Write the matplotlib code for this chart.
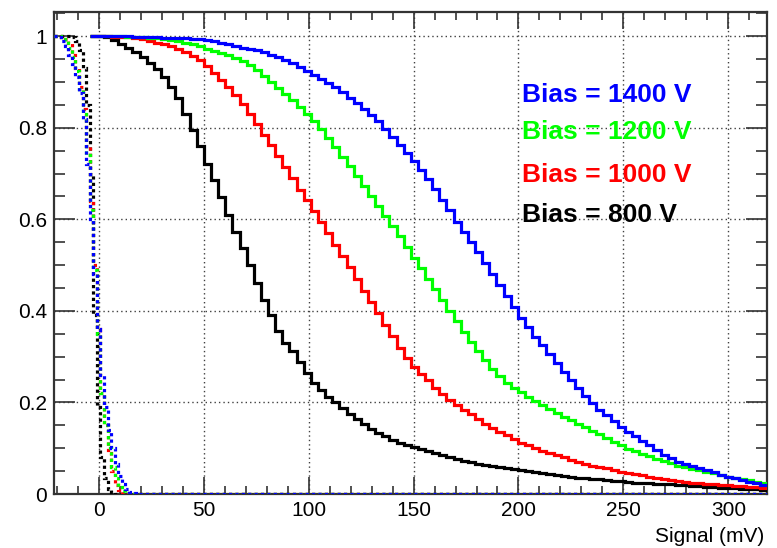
import numpy as np
import matplotlib
matplotlib.use("Agg")
import matplotlib.pyplot as plt
from matplotlib.ticker import MultipleLocator, FuncFormatter

# ---------------- data ----------------
# solid histograms: 3.4 mV bins starting at -4.3 mV
solid_start = -4.3
solid_width = 3.4
black_800 = [1.0, 1.0, 0.998, 0.991, 0.983, 0.975, 0.965, 0.955, 0.942, 0.929,
             0.91, 0.89, 0.865, 0.83, 0.795, 0.76, 0.722, 0.686, 0.648, 0.61,
             0.573, 0.538, 0.50, 0.46, 0.424, 0.39, 0.356, 0.33, 0.312, 0.289,
             0.265, 0.243, 0.228, 0.213, 0.2, 0.188, 0.175, 0.163, 0.152, 0.142,
             0.134, 0.126, 0.119, 0.112, 0.107, 0.102, 0.098, 0.094, 0.09, 0.085,
             0.08, 0.076, 0.072, 0.069, 0.066, 0.064, 0.062, 0.059, 0.057, 0.054,
             0.052, 0.05, 0.047, 0.045, 0.043, 0.041, 0.039, 0.037, 0.036, 0.035,
             0.033, 0.032, 0.031, 0.029, 0.028, 0.026, 0.025, 0.024, 0.023, 0.022,
             0.021, 0.021, 0.02, 0.019, 0.018, 0.017, 0.016, 0.015, 0.014, 0.013,
             0.013, 0.012, 0.011, 0.01, 0.009]
red_1000 = [1.0, 1.0, 1.0, 0.999, 0.999, 0.998, 0.997, 0.994, 0.99, 0.986,
            0.982, 0.978, 0.972, 0.965, 0.957, 0.948, 0.934, 0.92, 0.905, 0.89,
            0.872, 0.852, 0.83, 0.808, 0.785, 0.762, 0.738, 0.714, 0.69, 0.665,
            0.642, 0.618, 0.595, 0.57, 0.545, 0.52, 0.495, 0.47, 0.444, 0.42,
            0.395, 0.37, 0.345, 0.32, 0.298, 0.278, 0.262, 0.248, 0.232, 0.218,
            0.205, 0.194, 0.184, 0.174, 0.164, 0.153, 0.144, 0.136, 0.128, 0.12,
            0.112, 0.106, 0.1, 0.094, 0.089, 0.085, 0.08, 0.075, 0.07, 0.066,
            0.062, 0.059, 0.056, 0.052, 0.049, 0.046, 0.044, 0.041, 0.038, 0.035,
            0.033, 0.03, 0.028, 0.026, 0.025, 0.023, 0.022, 0.021, 0.02, 0.019,
            0.018, 0.017, 0.016, 0.015, 0.013]
green_1200 = [1.0, 1.0, 1.0, 1.0, 1.0, 0.999, 0.999, 0.998, 0.997, 0.996,
              0.994, 0.992, 0.989, 0.986, 0.982, 0.978, 0.973, 0.968, 0.963, 0.958,
              0.952, 0.945, 0.937, 0.926, 0.914, 0.9, 0.887, 0.874, 0.86, 0.846,
              0.83, 0.814, 0.797, 0.778, 0.758, 0.737, 0.716, 0.695, 0.673, 0.652,
              0.63, 0.608, 0.586, 0.564, 0.54, 0.515, 0.493, 0.47, 0.447, 0.423,
              0.4, 0.377, 0.353, 0.332, 0.312, 0.292, 0.274, 0.258, 0.243, 0.232,
              0.222, 0.212, 0.203, 0.195, 0.186, 0.177, 0.169, 0.161, 0.154, 0.146,
              0.138, 0.13, 0.122, 0.114, 0.106, 0.099, 0.094, 0.088, 0.082, 0.077,
              0.072, 0.067, 0.062, 0.058, 0.055, 0.052, 0.049, 0.046, 0.042, 0.038,
              0.035, 0.033, 0.03, 0.027, 0.024]
blue_1400 = [1.0, 1.0, 1.0, 1.0, 1.0, 1.0, 0.999, 0.999, 0.998, 0.998,
             0.997, 0.997, 0.996, 0.996, 0.995, 0.994, 0.992, 0.989, 0.986, 0.983,
             0.979, 0.975, 0.972, 0.969, 0.965, 0.96, 0.954, 0.948, 0.941, 0.933,
             0.925, 0.916, 0.907, 0.898, 0.889, 0.878, 0.866, 0.854, 0.842, 0.829,
             0.814, 0.798, 0.78, 0.762, 0.745, 0.728, 0.708, 0.688, 0.666, 0.643,
             0.62, 0.595, 0.572, 0.55, 0.528, 0.505, 0.481, 0.456, 0.432, 0.408,
             0.385, 0.364, 0.344, 0.325, 0.306, 0.286, 0.266, 0.248, 0.232, 0.214,
             0.199, 0.184, 0.172, 0.16, 0.147, 0.136, 0.126, 0.116, 0.106, 0.096,
             0.086, 0.078, 0.071, 0.066, 0.061, 0.057, 0.052, 0.047, 0.042, 0.037,
             0.034, 0.031, 0.027, 0.024, 0.02]

# dotted (pedestal / noise) histograms: 1.7 mV bins starting at -21.3 mV
noise_start = -21.3
noise_width = 1.7
noise_black = [1.0, 1.0, 1.0, 1.0, 1.0, 0.998, 0.99, 0.97, 0.93, 0.85,
               0.70, 0.39, 0.19, 0.08, 0.035, 0.012, 0.004, 0.001]
noise_red = [1.0, 1.0, 0.998, 0.995, 0.985, 0.96, 0.93, 0.89, 0.84, 0.76,
             0.64, 0.50, 0.36, 0.22, 0.15, 0.09, 0.05, 0.02, 0.008, 0.003, 0.001]
noise_green = [1.0, 1.0, 0.995, 0.99, 0.975, 0.955, 0.925, 0.885, 0.83, 0.74,
               0.62, 0.49, 0.35, 0.22, 0.15, 0.10, 0.06, 0.035, 0.015, 0.006, 0.002]
noise_blue = [1.0, 0.998, 0.99, 0.978, 0.96, 0.94, 0.912, 0.875, 0.82, 0.72,
              0.60, 0.48, 0.36, 0.26, 0.19, 0.14, 0.10, 0.065, 0.04, 0.022,
              0.01, 0.005, 0.002, 0.001]

labels = ["Bias = 1400 V", "Bias = 1200 V", "Bias = 1000 V", "Bias = 800 V"]
colors = ["#0000ff", "#00ff00", "#ff0000", "#000000"]

xlim = (-21.3, 318.4)
ylim = (0.0, 1.053)
x_title = "Signal (mV)"

# ---------------- figure ----------------
plt.rcParams['font.family'] = ['Liberation Sans', 'DejaVu Sans']
fig = plt.figure(figsize=(7.77, 5.48), dpi=100)
ax = fig.add_axes([54 / 777, 1 - 494 / 548, (767 - 54) / 777, (494 - 12) / 548])

n_noise_bins = int(round((xlim[1] - noise_start) / noise_width))
noise_edges = noise_start + noise_width * np.arange(n_noise_bins + 1)


def pad(vals):
    out = np.zeros(n_noise_bins)
    out[:len(vals)] = vals
    return out


lw = 2.3
for vals, col in [(noise_black, colors[3]), (noise_red, colors[2]),
                  (noise_green, colors[1]), (noise_blue, colors[0])]:
    ax.stairs(pad(vals), noise_edges, color=col, lw=lw, baseline=None,
              linestyle=(0, (1.0, 1.0)), zorder=3)

for vals, col in [(black_800, colors[3]), (red_1000, colors[2]),
                  (green_1200, colors[1]), (blue_1400, colors[0])]:
    edges = solid_start + solid_width * np.arange(len(vals) + 1)
    ax.stairs(vals, edges, color=col, lw=lw, baseline=None, zorder=4)

ax.set_xlim(*xlim)
ax.set_ylim(*ylim)

ax.xaxis.set_major_locator(MultipleLocator(50))
ax.xaxis.set_minor_locator(MultipleLocator(10))
ax.yaxis.set_major_locator(MultipleLocator(0.2))
ax.yaxis.set_minor_locator(MultipleLocator(0.05))
ax.yaxis.set_major_formatter(FuncFormatter(lambda v, p: "%g" % round(v, 3)))

ax.grid(True, which='major', color='#404040', linestyle=(0, (1, 2.2)), lw=1.0)
ax.set_axisbelow(True)

ax.tick_params(which='both', direction='in', top=True, right=True,
               color='#333333', labelsize=15, width=1.2)
ax.tick_params(axis='y', which='major', length=15, pad=5)
ax.tick_params(axis='y', which='minor', length=8)
ax.tick_params(axis='x', which='major', length=12, pad=5)
ax.tick_params(axis='x', which='minor', length=6)

for s in ax.spines.values():
    s.set_linewidth(1.6)
    s.set_color('#333333')

ys = [95, 132, 175, 215]
for lab, col, yp in zip(labels, colors, ys):
    fig.text(522 / 777, 1 - yp / 548, lab, color=col, fontsize=19,
             fontweight='bold', ha='left', va='center')

fig.text(764 / 777, 1 - 537 / 548, x_title, fontsize=15, ha='right',
         va='center')

fig.savefig("out.png", dpi=100)
